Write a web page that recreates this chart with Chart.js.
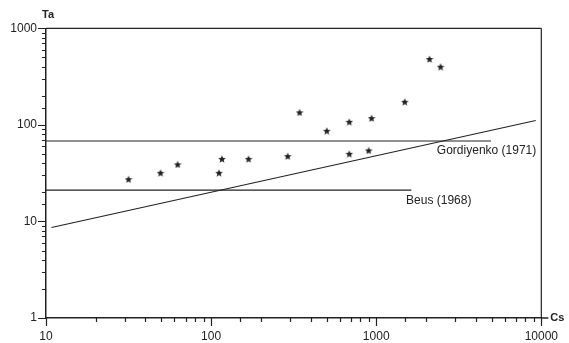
<!DOCTYPE html>
<html><head><meta charset="utf-8">
<script src="https://cdn.jsdelivr.net/npm/chart.js@4.4.1/dist/chart.umd.min.js"></script>
<style>html,body{margin:0;padding:0;background:#fff;overflow:hidden;} #wrap{width:569px;height:343px;}</style>
</head><body><div id="wrap"><canvas id="c" width="569" height="343"></canvas></div>
<script>
// ---- data ----
const xTickLabels = [10, 100, 1000, 10000];
const yTickLabels = [1, 10, 100, 1000];
const csValues = [31.6, 49.4, 62.7, 111.7, 116.4, 168.6, 291, 343.6, 502, 687, 687, 938, 900, 1489, 2103, 2455];
const taValues = [27.4, 31.9, 39, 31.9, 44.5, 44.5, 47.5, 134.8, 86.9, 107.7, 50.2, 117.6, 54.4, 173.5, 481, 400];
const gordiyenkoX = [10, 4955];
const gordiyenkoY = [68, 68];
const beusX = [10, 1633];
const beusY = [21.1, 21.1];
const trendX = [10.8, 9250];
const trendY = [8.66, 111];
const xTitle = 'Cs';
const yTitle = 'Ta';
const lineLabels = ['Gordiyenko (1971)', 'Beus (1968)'];

const INK = '#222';
const FONT = '"Liberation Sans", Arial, sans-serif';

function makeStar(size, color) {
  const c = document.createElement('canvas');
  c.width = size; c.height = size;
  const g = c.getContext('2d');
  const cx = size / 2, cy = size / 2 + 0.4, R = size / 2, r = R * 0.45;
  g.beginPath();
  for (let i = 0; i < 10; i++) {
    const rad = (i % 2 === 0) ? R : r;
    const a = -Math.PI / 2 + i * Math.PI / 5;
    const px = cx + rad * Math.cos(a), py = cy + rad * Math.sin(a);
    if (i === 0) g.moveTo(px, py); else g.lineTo(px, py);
  }
  g.closePath();
  g.fillStyle = color; g.fill();
  return c;
}
const star = makeStar(8, INK);

const pts = (xs, ys) => xs.map((x, i) => ({ x, y: ys[i] }));
const isMajor = v => Math.abs(Math.log10(v) - Math.round(Math.log10(v))) < 1e-9;

const framePlugin = {
  id: 'frame',
  afterDraw(chart) {
    const { ctx, chartArea: a, scales: { x, y } } = chart;
    ctx.save();
    ctx.strokeStyle = INK;
    ctx.lineWidth = 1.2;
    ctx.beginPath();
    ctx.moveTo(a.left, a.top); ctx.lineTo(a.right, a.top);
    ctx.moveTo(a.right, a.top); ctx.lineTo(a.right, a.bottom);
    ctx.stroke();
    ctx.lineWidth = 1.5;
    ctx.beginPath();
    ctx.moveTo(a.right, a.bottom); ctx.lineTo(a.right + 7, a.bottom);
    ctx.stroke();
    ctx.lineWidth = 1.2;
    ctx.beginPath();
    x.ticks.forEach(t => {
      const px = Math.round(x.getPixelForValue(t.value)) + 0.5;
      const len = isMajor(t.value) ? 8 : 4;
      ctx.moveTo(px, a.bottom); ctx.lineTo(px, a.bottom + len);
    });
    y.ticks.forEach(t => {
      const py = Math.round(y.getPixelForValue(t.value)) + 0.5;
      const len = isMajor(t.value) ? 8 : 4;
      ctx.moveTo(a.left, py); ctx.lineTo(a.left - len, py);
    });
    ctx.stroke();
    ctx.fillStyle = INK;
    ctx.font = '12px ' + FONT;
    ctx.textBaseline = 'middle';
    ctx.textAlign = 'left';
    ctx.fillText(lineLabels[0], x.getPixelForValue(2330), y.getPixelForValue(53.6));
    ctx.fillText(lineLabels[1], x.getPixelForValue(1517), y.getPixelForValue(16.4));
    ctx.font = 'bold 11px ' + FONT;
    ctx.fillText(yTitle, a.left - 4, a.top - 13);
    ctx.fillText(xTitle, a.right + 9, a.bottom);
    ctx.restore();
  }
};

const lineDs = (xs, ys) => ({
  type: 'line', data: pts(xs, ys), showLine: true, borderColor: INK, borderWidth: 1.1,
  pointRadius: 0, fill: false, tension: 0
});

new Chart(document.getElementById('c'), {
  type: 'scatter',
  data: {
    datasets: [
      { data: pts(csValues, taValues), pointStyle: star, pointRadius: 4, backgroundColor: INK, borderColor: INK },
      lineDs(gordiyenkoX, gordiyenkoY),
      lineDs(beusX, beusY),
      lineDs(trendX, trendY)
    ]
  },
  options: {
    responsive: false, animation: false, devicePixelRatio: 1,
    layout: { padding: { top: 28.3, right: 24.3, left: 0, bottom: 0 } },
    plugins: { legend: { display: false }, tooltip: { enabled: false } },
    scales: {
      x: {
        type: 'logarithmic', min: 10, max: 10000, position: 'bottom',
        grid: { drawOnChartArea: false, drawTicks: false },
        border: { color: INK, width: 1.5 },
        ticks: {
          autoSkip: false, maxRotation: 0, padding: 11, color: INK,
          font: { family: FONT, size: 12 },
          callback: v => (isMajor(v) && xTickLabels.includes(Math.round(v))) ? String(Math.round(v)) : ''
        },
        afterFit: s => { s.height = 25; }
      },
      y: {
        type: 'logarithmic', min: 1, max: 1000, position: 'left',
        grid: { drawOnChartArea: false, drawTicks: false },
        border: { color: INK, width: 1.5 },
        ticks: {
          autoSkip: false, padding: 9, color: INK,
          font: { family: FONT, size: 12 },
          callback: v => (isMajor(v) && yTickLabels.includes(Math.round(v))) ? String(Math.round(v)) : ''
        },
        afterFit: s => { s.width = 46; }
      }
    }
  },
  plugins: [framePlugin]
});
</script>
</body></html>
